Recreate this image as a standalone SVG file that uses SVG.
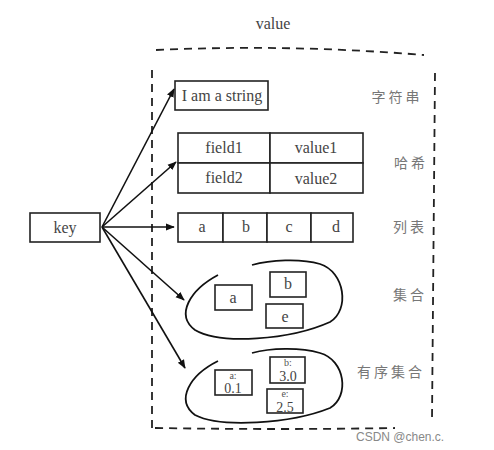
<svg xmlns="http://www.w3.org/2000/svg" width="494" height="450" viewBox="0 0 494 450">
<defs>
<marker id="ah" viewBox="0 0 10 10" refX="9" refY="5" markerWidth="9" markerHeight="9" markerUnits="userSpaceOnUse" orient="auto"><path d="M0,1 L10,5 L0,9 z" fill="#111"/></marker>
<style>
.b{fill:#fff;stroke:#222;stroke-width:1.6}
.t{font-family:"Liberation Serif",serif;font-size:16px;fill:#444;text-anchor:middle}
.s{font-family:"Liberation Serif",serif;font-size:10px;fill:#555;text-anchor:middle}
.n{font-family:"Liberation Serif",serif;font-size:14px;fill:#444;text-anchor:middle}
.c{font-family:"Noto Sans CJK SC",sans-serif;font-size:14px;fill:#777;text-anchor:middle;letter-spacing:3px}
.d{fill:none;stroke:#222;stroke-width:1.8;stroke-dasharray:8 6}
.e{fill:none;stroke:#111;stroke-width:1.8}
.a{fill:none;stroke:#111;stroke-width:1.6;marker-end:url(#ah)}
</style>
</defs>
<rect width="494" height="450" fill="#fff"/>
<text class="t" x="273" y="29">value</text>
<g id="frame">
<path class="d" d="M156,50 Q290,44 424,55"/>
<path class="d" d="M152,70 L152,432"/>
<path class="d" d="M435,73 L432,420"/>
<path class="d" d="M155,428 Q280,430 395,428"/>
</g>
<g id="key"><rect class="b" x="30" y="213" width="70" height="29"/><text class="t" x="65" y="233">key</text></g>
<g id="string"><rect class="b" x="175" y="81" width="93" height="29"/><text class="t" x="222" y="101">I am a string</text><text class="c" x="397" y="102">字符串</text></g>
<g id="hash">
<rect class="b" x="178" y="133" width="92" height="30"/><text class="t" x="224" y="153">field1</text>
<rect class="b" x="270" y="133" width="93" height="30"/><text class="t" x="316" y="153">value1</text>
<rect class="b" x="178" y="163" width="92" height="30"/><text class="t" x="224" y="183">field2</text>
<rect class="b" x="270" y="163" width="93" height="30"/><text class="t" x="316" y="184">value2</text>
<text class="c" x="411" y="168">哈希</text>
</g>
<g id="list">
<rect class="b" x="178" y="213" width="45" height="29"/><text class="t" x="202" y="232">a</text>
<rect class="b" x="223" y="213" width="44" height="29"/><text class="t" x="246" y="232">b</text>
<rect class="b" x="267" y="213" width="44" height="29"/><text class="t" x="289" y="232">c</text>
<rect class="b" x="311" y="213" width="42" height="29"/><text class="t" x="336" y="232">d</text>
<text class="c" x="410" y="232">列表</text>
</g>
<g id="set">
<path class="e" d="M218,275 C190,290 175,315 195,330 C220,345 290,340 330,322 C350,310 345,272 320,264 C300,258 270,260 252,265"/>
<rect class="b" x="215" y="285" width="37" height="25"/><text class="t" x="233" y="303">a</text>
<rect class="b" x="270" y="272" width="36" height="25"/><text class="t" x="288" y="289">b</text>
<rect class="b" x="266" y="304" width="37" height="24"/><text class="t" x="285" y="322">e</text>
<text class="c" x="410" y="300">集合</text>
</g>
<g id="zset">
<path class="e" d="M218,361 C190,375 175,400 195,415 C220,428 290,424 330,408 C350,396 345,360 320,353 C300,347 270,348 252,353"/>
<rect class="b" x="215" y="370" width="37" height="25"/><text class="s" x="233" y="379">a:</text><text class="n" x="233" y="393">0.1</text>
<rect class="b" x="270" y="357" width="35" height="26"/><text class="s" x="288" y="366">b:</text><text class="n" x="288" y="381">3.0</text>
<rect class="b" x="267" y="389" width="36" height="24"/><text class="s" x="285" y="397">e:</text><text class="n" x="285" y="412">2.5</text>
<text class="c" x="391" y="377">有序集合</text>
</g>
<g id="connectors">
<line class="a" x1="102" y1="227" x2="174" y2="89"/>
<line class="a" x1="102" y1="227" x2="176" y2="162"/>
<line class="a" x1="102" y1="227" x2="174" y2="227"/>
<line class="a" x1="102" y1="227" x2="184" y2="300"/>
<line class="a" x1="102" y1="227" x2="185" y2="368"/>
</g>
<text x="356" y="441" font-family="Liberation Sans,sans-serif" font-size="12" fill="#888">CSDN @chen.c.</text>
</svg>
